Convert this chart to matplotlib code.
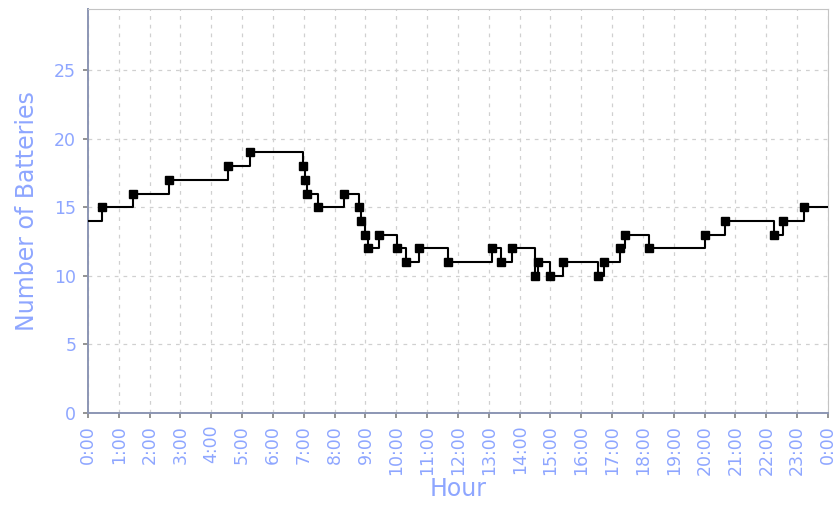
import matplotlib
matplotlib.use("Agg")
import matplotlib.pyplot as plt

# battery count steps over the day (hour of change, new count)
start_value = 14
change_hours = [0.44, 1.46, 2.63, 4.53, 5.24, 6.97, 7.05, 7.10, 7.45, 8.29,
                8.78, 8.84, 8.97, 9.07, 9.45, 10.03, 10.32, 10.75, 11.66, 13.10,
                13.39, 13.74, 14.49, 14.58, 14.99, 15.41, 16.53, 16.73, 17.24, 17.43,
                18.21, 20.00, 20.65, 22.24, 22.53, 23.23]
battery_counts = [15, 16, 17, 18, 19, 18, 17, 16, 15, 16,
                  15, 14, 13, 12, 13, 12, 11, 12, 11, 12,
                  11, 12, 10, 11, 10, 11, 10, 11, 12, 13,
                  12, 13, 14, 13, 14, 15]
hour_labels = [f"{h % 24}:00" for h in range(25)]
y_ticks = [0, 5, 10, 15, 20, 25]

label_color = "#8ea6ff"

fig = plt.figure(figsize=(8.37, 5.14), dpi=100)
ax = fig.add_axes([88 / 837, 1 - 413 / 514, 740 / 837, 404 / 514])

xs = [0] + change_hours + [24]
ys = [start_value] + battery_counts + [battery_counts[-1]]
ax.plot(xs, ys, drawstyle="steps-post", color="black", linewidth=1.5, zorder=3)
ax.plot(change_hours, battery_counts, linestyle="none", marker="s",
        markersize=6, color="black", zorder=4)

ax.set_xlim(0, 24)
ax.set_ylim(0, 29.45)
ax.set_xticks(range(25))
ax.set_xticklabels(hour_labels, rotation=90, fontsize=12.5, color=label_color)
ax.set_yticks(y_ticks)
ax.set_yticklabels([str(v) for v in y_ticks], fontsize=12.5, color=label_color)

ax.grid(True, color="#d0d0d0", linestyle=(0, (3, 4)), linewidth=0.9)
ax.set_axisbelow(True)

ax.tick_params(axis="both", length=3.5, width=1.2, color="#808080", pad=5)

ax.spines["left"].set_color("#8c96b4")
ax.spines["bottom"].set_color("#8c96b4")
ax.spines["left"].set_linewidth(1.4)
ax.spines["bottom"].set_linewidth(1.4)
ax.spines["top"].set_color("#c4c4c4")
ax.spines["right"].set_color("#c4c4c4")

ax.set_xlabel("Hour", fontsize=17, color=label_color, labelpad=2)
ax.set_ylabel("Number of Batteries", fontsize=17, color=label_color, labelpad=11)

fig.savefig("out.png", dpi=100)
